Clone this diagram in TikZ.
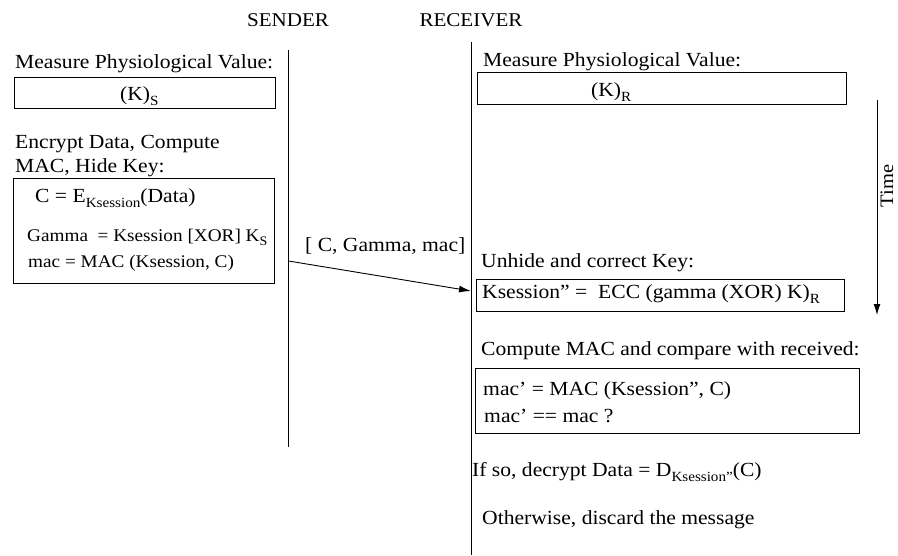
\documentclass[tikz,border=0pt]{standalone}
\usepackage{fontspec}
\setmainfont[FakeStretch=1.08]{Liberation Serif}
\usetikzlibrary{arrows.meta}
% lowered, smaller text used for subscripts
\newcommand{\lowtxt}[2][14]{\raisebox{-0.27em}{\fontsize{#1}{#1}\selectfont #2}}
\begin{document}
\begin{tikzpicture}[x=1pt,y=-1pt,
  txt/.style={inner sep=0pt, anchor=base west, font=\fontsize{20}{24}\selectfont},
  small/.style={inner sep=0pt, anchor=base west, font=\fontsize{17.8}{20}\selectfont},
  head/.style={inner sep=0pt, anchor=base, font=\fontsize{19.5}{22}\selectfont},
  box/.style={draw, line width=0.9pt, inner sep=0pt, anchor=north west},
  lifeline/.style={line width=0.9pt},
  msg/.style={line width=0.9pt, -{Latex[length=12pt,width=7pt]}}]
\useasboundingbox (0,0) rectangle (898,555);

% headers and lifelines
\node[head] (sender) at (288,26) {SENDER};
\node[head] (receiver) at (471,26) {RECEIVER};
\coordinate (stop) at (288.5,50);
\coordinate (sbot) at (288.5,447);
\coordinate (rtop) at (471.5,42);
\coordinate (rbot) at (471.5,555);
\draw[lifeline] (stop) -- (sbot);
\draw[lifeline] (rtop) -- (rbot);

% sender side
\node[txt] (smeasure) at (15,68) {Measure Physiological Value:};
\node[box, minimum width=261pt, minimum height=31pt] (ksbox) at (14,77) {};
\node[txt] (ks) at (120,100) {(K)\lowtxt{S}};
\node[txt] (encrypt1) at (15,148) {Encrypt Data, Compute};
\node[txt] (encrypt2) at (15,172) {MAC, Hide Key:};
\node[box, minimum width=261pt, minimum height=105pt] (encbox) at (13,178) {};
\node[txt] (cline) at (35,202) {C = E\lowtxt{Ksession}(Data)};
\node[small] (gline) at (27,241) {Gamma\ \ = Ksession [XOR] K\lowtxt[13]{S}};
\node[small] (mline) at (28,267) {mac = MAC (Ksession, C)};

% message
\coordinate (msgstart) at (288.5,261);
\coordinate (msgend) at (471,291);
\draw[msg] (msgstart) -- (msgend);
\node[txt] (msglabel) at (305,251) {[ C, Gamma, mac]};

% receiver side
\node[txt] (rmeasure) at (483,66) {Measure Physiological Value:};
\node[box, minimum width=369pt, minimum height=32pt] (krbox) at (477,72) {};
\node[txt] (kr) at (591,96) {(K)\lowtxt{R}};
\node[txt] (unhide) at (481,267) {Unhide and correct Key:};
\node[box, minimum width=368pt, minimum height=32pt] (eccbox) at (476,279) {};
\node[txt] (ecc) at (482,298) {Ksession” =\ \ ECC (gamma (XOR) K)\lowtxt{R}};
\node[txt] (compute) at (481,355) {Compute MAC and compare with received:};
\node[box, minimum width=384pt, minimum height=65pt] (macbox) at (475,368) {};
\node[txt] (mac1) at (483,395) {mac’ = MAC (Ksession”, C)};
\node[txt] (mac2) at (484,422) {mac’ == mac ?};
\node[txt] (ifso) at (472,476) {If so, decrypt Data = D\lowtxt{Ksession”}(C)};
\node[txt] (otherwise) at (482,524) {Otherwise, discard the message};

% time axis
\coordinate (ttop) at (877,100);
\coordinate (tbot) at (877,315);
\draw[line width=0.9pt, -{Latex[length=11pt,width=7pt]}] (ttop) -- (tbot);
\node[inner sep=0pt, rotate=90, anchor=south, font=\fontsize{19}{22}\selectfont] (time) at (893.5,186) {Time};
\end{tikzpicture}
\end{document}
